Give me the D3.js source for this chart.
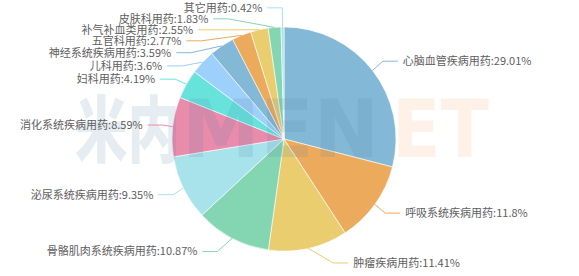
<!DOCTYPE html>
<meta charset="utf-8">
<script src="https://d3js.org/d3.v7.min.js"></script>
<style>
  body { margin: 0; background: #fff; }
  text { font-family: "Noto Sans CJK SC", "Noto Sans", sans-serif; }
</style>
<body>
<div id="chart"></div>
<script>
// categories and shares (%)
var names = ["心脑血管疾病用药", "呼吸系统疾病用药", "肿瘤疾病用药", "骨骼肌肉系统疾病用药",
             "泌尿系统疾病用药", "消化系统疾病用药", "妇科用药", "儿科用药", "神经系统疾病用药",
             "五官科用药", "补气补血类用药", "皮肤科用药", "其它用药"];
var values = [29.01, 11.8, 11.41, 10.87, 9.35, 8.59, 4.19, 3.6, 3.59, 2.77, 2.55, 1.83, 0.42];
var palette = ["#83b8d6", "#ecaa5c", "#e9cd6f", "#84d6b3", "#a8e2ea", "#e98bab", "#67e3dc", "#9dd0fa"];

var width = 579, height = 276;
var cx = 284, cy = 139, r = 112;
var len1 = 15, len2 = 15, labelGap = 5, lineH = 11;

var svg = d3.select("#chart").append("svg")
    .attr("width", width)
    .attr("height", height);

var data = names.map(function(n, i) { return {name: n, value: values[i]}; });

var pie = d3.pie().sort(null).value(function(d) { return d.value; });
var arc = d3.arc().innerRadius(0).outerRadius(r);
var arcs = pie(data);

var color = d3.scaleOrdinal().domain(names).range(palette);

// slices
svg.append("g")
    .attr("transform", "translate(" + cx + "," + cy + ")")
  .selectAll("path")
  .data(arcs)
  .enter().append("path")
    .attr("d", arc)
    .attr("fill", function(d) { return color(d.data.name); })
    .attr("stroke", "#fff")
    .attr("stroke-width", 0.6);

// watermark
var wm = svg.append("g").attr("pointer-events", "none");
wm.append("text")
    .attr("x", 75).attr("y", 156)
    .attr("textLength", 105).attr("lengthAdjust", "spacingAndGlyphs")
    .style("font-size", "72px").style("font-weight", 900)
    .attr("fill", "#4d7fa6").attr("fill-opacity", 0.14)
    .text("米内");
wm.append("text")
    .attr("x", 182).attr("y", 157)
    .attr("textLength", 197).attr("lengthAdjust", "spacingAndGlyphs")
    .style("font-family", "DejaVu Sans").style("font-size", "81px").style("font-weight", "bold")
    .attr("fill", "#4d7fa6").attr("fill-opacity", 0.14)
    .text("MEN");
wm.append("text")
    .attr("x", 392).attr("y", 157)
    .attr("textLength", 97).attr("lengthAdjust", "spacingAndGlyphs")
    .style("font-family", "DejaVu Sans").style("font-size", "81px").style("font-weight", "bold")
    .attr("fill", "#f5a45c").attr("fill-opacity", 0.14)
    .text("ET");

// label layout (outer labels with two-segment lines, overlap avoidance)
var labels = arcs.map(function(a) {
  var mid = (a.startAngle + a.endAngle) / 2;
  var dx = Math.sin(mid), dy = -Math.cos(mid);
  var dir = dx < 0 ? -1 : 1;
  var x1 = cx + r * dx, y1 = cy + r * dy;
  var x2 = cx + (r + len1) * dx, y2 = cy + (r + len1) * dy;
  var x3 = x2 + dir * len2;
  return {
    d: a, dir: dir,
    pts: [[x1, y1], [x2, y2], [x3, y2]],
    x: x3 + dir * labelGap, y: y2, h: lineH
  };
});

function adjustSide(list, dir) {
  list.sort(function(a, b) { return a.y - b.y; });
  var top = 0, bottom = height;

  function shiftUp(end, delta) {
    for (var j = end; j >= 0; j--) {
      if (list[j].y - delta < top) break;
      list[j].y -= delta;
      if (j > 0 && list[j].y > list[j - 1].y + list[j - 1].h) break;
    }
  }
  function shiftDown(start, end, delta) {
    for (var j = start; j < end; j++) {
      if (list[j].y + delta > bottom) break;
      list[j].y += delta;
      if (j > start && j + 1 < end && list[j + 1].y > list[j].y + list[j].h) {
        shiftUp(j, delta / 2);
        return;
      }
    }
    shiftUp(end - 1, delta / 2);
  }

  var lastY = 0;
  for (var i = 0; i < list.length; i++) {
    var delta = list[i].y - lastY;
    if (delta < 0) shiftDown(i, list.length, -delta);
    lastY = list[i].y + list[i].h;
  }

  var up = list.filter(function(l) { return l.y < cy; });
  var down = list.filter(function(l) { return l.y >= cy; });
  changeX(up, false);
  changeX(down, true);

  function changeX(sub, isDown) {
    var last = isDown ? Number.MAX_VALUE : 0;
    sub.forEach(function(l) {
      var ddy = Math.abs(l.y - cy);
      var R = r + len1 + len2;
      var ddx = ddy < r + len1 ? Math.sqrt(R * R - ddy * ddy) : Math.abs(l.x - cx);
      if (isDown && ddx >= last) ddx = last - 10;
      if (!isDown && ddx <= last) ddx = last + 10;
      l.x = cx + ddx * dir;
      last = ddx;
    });
  }
}

adjustSide(labels.filter(function(l) { return l.dir < 0; }), -1);
adjustSide(labels.filter(function(l) { return l.dir > 0; }), 1);

labels.forEach(function(l) {
  var dist = l.pts[1][0] - l.pts[2][0];
  l.pts[2][0] = l.x - l.dir * labelGap;
  l.pts[1][0] = l.pts[2][0] + dist;
  l.pts[1][1] = l.pts[2][1] = l.y;
});

var line = d3.line();

svg.append("g").selectAll("path")
  .data(labels)
  .enter().append("path")
    .attr("d", function(l) { return line(l.pts); })
    .attr("fill", "none")
    .attr("stroke", function(l) { return color(l.d.data.name); })
    .attr("stroke-width", 1);

svg.append("g").selectAll("text")
  .data(labels)
  .enter().append("text")
    .attr("x", function(l) { return l.x; })
    .attr("y", function(l) { return l.y; })
    .attr("dy", "0.35em")
    .attr("text-anchor", function(l) { return l.dir < 0 ? "end" : "start"; })
    .attr("fill", "#5e5e5e")
    .style("font-size", "11px")
    .text(function(l) { return l.d.data.name + ":" + l.d.data.value + "%"; });
</script>
</body>
